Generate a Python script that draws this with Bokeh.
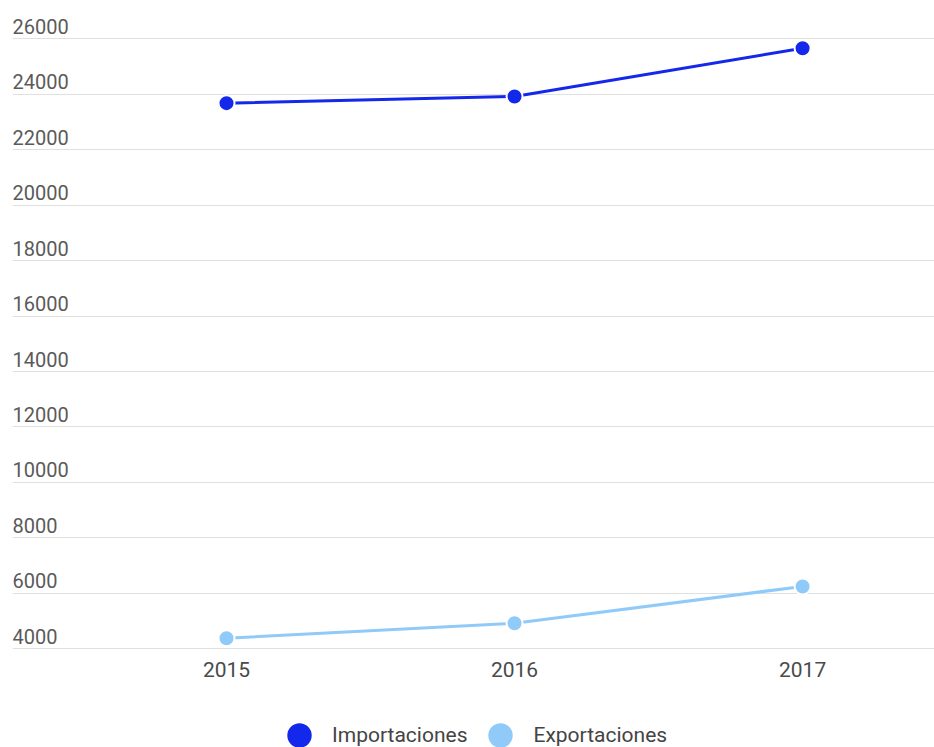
from bokeh.plotting import figure
from bokeh.models import (ColumnDataSource, FixedTicker, LabelSet, Legend,
                          LegendItem, Range1d)
from bokeh.core.properties import value
from bokeh.embed import file_html
from bokeh.resources import INLINE

# ---- data ----
years = [2015, 2016, 2017]
year_labels = ["2015", "2016", "2017"]
importaciones = [23680, 23920, 25660]
exportaciones = [4380, 4920, 6250]
y_ticks = [4000, 6000, 8000, 10000, 12000, 14000, 16000, 18000, 20000,
           22000, 24000, 26000]
y_tick_labels = [str(t) for t in y_ticks]

IMP_COLOR = "#1428eb"
EXP_COLOR = "#90caf9"
FONT = "Roboto"

p = figure(width=934, height=747, output_backend="svg", toolbar_location=None,
           x_range=Range1d(2014.257, 2017.458), y_range=Range1d(441, 27093),
           min_border_left=12, min_border_right=0, min_border_top=8,
           min_border_bottom=0)
p.outline_line_color = None
p.background_fill_color = "white"
p.border_fill_color = "white"

# grid
p.xgrid.visible = False
p.ygrid.ticker = FixedTicker(ticks=y_ticks)
p.ygrid.grid_line_color = "#e0e0e0"
p.ygrid.grid_line_width = 1
p.xaxis.visible = False
p.yaxis.visible = False

# y tick labels above the grid lines
ysrc = ColumnDataSource(dict(y=y_ticks, text=y_tick_labels))
p.add_layout(LabelSet(x=0, y="y", text="text", x_units="screen", y_units="data",
                      source=ysrc, text_font=value(FONT), text_font_size="20px",
                      text_color="#5a5a5a", text_baseline="alphabetic",
                      text_align="left", y_offset=5))

# x tick labels below the lowest grid line
xsrc = ColumnDataSource(dict(x=years, y=[min(y_ticks)] * len(years), text=year_labels))
p.add_layout(LabelSet(x="x", y="y", text="text", source=xsrc,
                      text_font=value(FONT), text_font_size="21px",
                      text_color="#4a4a4a", text_baseline="alphabetic",
                      text_align="center", y_offset=-28))

# series
p.line(years, importaciones, line_color=IMP_COLOR, line_width=3)
p.line(years, exportaciones, line_color=EXP_COLOR, line_width=3)
imp_pts = p.scatter(years, importaciones, size=16, fill_color=IMP_COLOR,
                    line_color="white", line_width=2)
exp_pts = p.scatter(years, exportaciones, size=16, fill_color=EXP_COLOR,
                    line_color="white", line_width=2)

legend = Legend(items=[LegendItem(label="Importaciones", renderers=[imp_pts]),
                       LegendItem(label="Exportaciones", renderers=[exp_pts])],
                orientation="horizontal", glyph_width=66, glyph_height=66,
                label_standoff=0, spacing=0, padding=0, margin=0,
                border_line_color=None, background_fill_alpha=0,
                label_text_font=FONT, label_text_font_size="21px",
                label_text_color="#444444", location=(254, -21))
p.add_layout(legend, "center")

open("out.html", "w").write(file_html(p, INLINE))
